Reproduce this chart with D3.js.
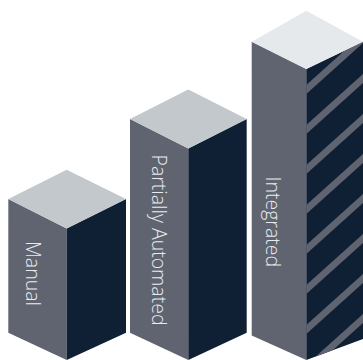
<!DOCTYPE html>
<html>
<head>
<meta charset="utf-8">
<script src="https://cdn.jsdelivr.net/npm/d3@7/dist/d3.min.js"></script>
<style>
  html, body { margin: 0; padding: 0; background: #fff; overflow: hidden; }
  svg { display: block; }
  text { font-family: "Open Sans", sans-serif; font-weight: 300; }
</style>
</head>
<body>
<script>
// Automation levels and their relative column heights
const categories = ["Manual", "Partially Automated", "Integrated"];
const values = [45.2, 72.7, 100];
const topColors = ["#c2c8cb", "#c2c8cb", "#e6e9ec"];
const striped = [false, false, true];

const width = 363, height = 360;
const leftFace = "#5f6470", rightFace = "#0f2035";

// Isometric proportions for each column: face widths, roof rise to shoulder and apex, base drop
const shape = [
  { wl: 58.4, wr: 59.3, rise: 29.4, apex: 58.7, dropL: 27.3, dropR: 27.3, labelDx: 25, labelY: 241 },
  { wl: 58.3, wr: 58.4, rise: 29.4, apex: 59, dropL: 27.3, dropR: 27.3, labelDx: 28.5, labelY: 154.5 },
  { wl: 54.6, wr: 56.7, rise: 27.3, apex: 58.3, dropL: 24.5, dropR: 21, labelDx: 21, labelY: 176.5 }
];
const stripePeriod = 40, stripeSlope = 0.9, stripeBand = 9, stripeFirst = 85, stripeCount = 8;

const x = d3.scaleBand().domain(categories).range([8.3, 8.3 + 121.7 * 3]).paddingInner(0).paddingOuter(0);
const y = d3.scaleLinear().domain([0, 100]).range([height, 69]);
const line = d3.line();

const svg = d3.select("body").append("svg").attr("width", width).attr("height", height);
const defs = svg.append("defs");

categories.forEach((name, i) => {
  const s = shape[i];
  const x0 = x(name), cx = x0 + s.wl, x1 = cx + s.wr;
  const front = y(values[i]), base = y(0);
  const g = svg.append("g");

  const leftPts = [[x0, front - s.rise], [cx, front], [cx, base], [x0, base - s.dropL]];
  const rightPts = [[cx, front], [x1, front - s.rise], [x1, base - s.dropR], [cx, base]];
  const topPts = [[cx, front - s.apex], [x1, front - s.rise], [cx, front], [x0, front - s.rise]];

  g.append("path").attr("d", line(leftPts) + "Z").attr("fill", leftFace);
  g.append("path").attr("d", line(rightPts) + "Z").attr("fill", rightFace);

  if (striped[i]) {
    const clipId = "face-" + i;
    defs.append("clipPath").attr("id", clipId).append("path").attr("d", line(rightPts) + "Z");
    const stripes = g.append("g").attr("clip-path", `url(#${clipId})`);
    d3.range(stripeCount).forEach(k => {
      const yTop = stripeFirst + k * stripePeriod;
      const dx = s.wr + 4;
      stripes.append("path")
        .attr("d", line([[cx, yTop], [cx + dx, yTop - stripeSlope * dx], [cx + dx, yTop + stripeBand - stripeSlope * dx], [cx, yTop + stripeBand]]) + "Z")
        .attr("fill", leftFace);
    });
  }

  g.append("path").attr("d", line(topPts) + "Z").attr("fill", topColors[i]);

  g.append("text")
    .attr("transform", `translate(${x0 + s.labelDx},${s.labelY}) rotate(90)`)
    .attr("dy", "0.35em")
    .attr("font-size", 19.5)
    .attr("fill", "#e9ebee")
    .text(name);
});
</script>
</body>
</html>
